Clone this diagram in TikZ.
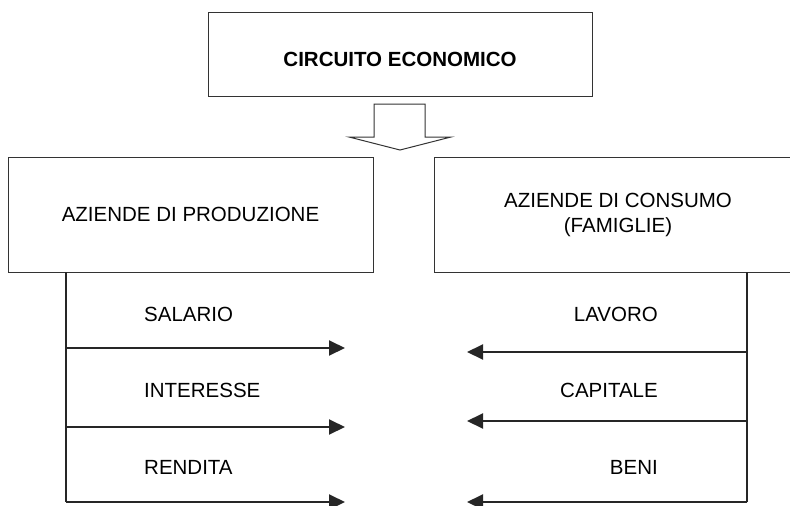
\documentclass[tikz,border=0pt]{standalone}
\usepackage{fontspec}
\setmainfont{Liberation Sans}
\usepackage{tikz}
\usetikzlibrary{arrows.meta}
\tikzstyle{block} = [draw=black!80,line width=1pt,inner sep=0pt]
\tikzstyle{lbl} = [inner sep=0pt]
\tikzstyle{flow} = [draw=black!85,fill=black!85,line width=2pt]

\begin{document}
\begin{tikzpicture}[x=1pt,y=-1pt,>={Triangle[length=16pt,width=15pt]},
    font=\fontsize{20.5}{25}\selectfont]
\useasboundingbox (0,0) rectangle (790,506);

% Draw blocks, labels and flows

    \node[block,minimum width=384pt,minimum height=84pt,text height=25pt,text depth=0pt] at (400,54) (circuito) {\textbf{CIRCUITO ECONOMICO}};
    \node[block,minimum width=365pt,minimum height=115pt] at (190.5,214.5) (produzione) {AZIENDE DI PRODUZIONE};
    \node[block,minimum width=368pt,minimum height=115pt,align=center] at (618,214.5) (consumo) {AZIENDE DI CONSUMO\\(FAMIGLIE)};

    % hollow arrow below the title
    \draw[line width=1pt,draw=black!80] (374,104) -- (425,104) -- (425,137) -- (451,137)
        -- (400,150) -- (349,137) -- (374,137) -- cycle;

    \node[lbl,anchor=west] at (144,314) (salario) {SALARIO};
    \node[lbl,anchor=west] at (144,390) (interesse) {INTERESSE};
    \node[lbl,anchor=west] at (144,467) (rendita) {RENDITA};
    \node[lbl,anchor=east] at (658,314) (lavoro) {LAVORO};
    \node[lbl,anchor=east] at (658,390) (capitale) {CAPITALE};
    \node[lbl,anchor=east] at (658,467) (beni) {BENI};

    \coordinate (ptop) at (66,272);
    \coordinate (pa) at (66,348);
    \coordinate (pb) at (66,427);
    \coordinate (pc) at (66,502);
    \coordinate (pa') at (345,348);
    \coordinate (pb') at (345,427);
    \coordinate (pc') at (345,502);

    \coordinate (ctop) at (747,272);
    \coordinate (ca) at (747,352);
    \coordinate (cb) at (747,421);
    \coordinate (cc) at (747,502);
    \coordinate (ca') at (467,352);
    \coordinate (cb') at (467,421);
    \coordinate (cc') at (467,502);

    \draw[flow,line width=1.5pt] (ptop) -- (pc);
    \draw[flow,line width=1.5pt] (ctop) -- (cc);
    \draw[flow,->] (pa) -- (pa');
    \draw[flow,->] (pb) -- (pb');
    \draw[flow,->] (pc) -- (pc');
    \draw[flow,->] (ca) -- (ca');
    \draw[flow,->] (cb) -- (cb');
    \draw[flow,->] (cc) -- (cc');

\end{tikzpicture}
\end{document}
